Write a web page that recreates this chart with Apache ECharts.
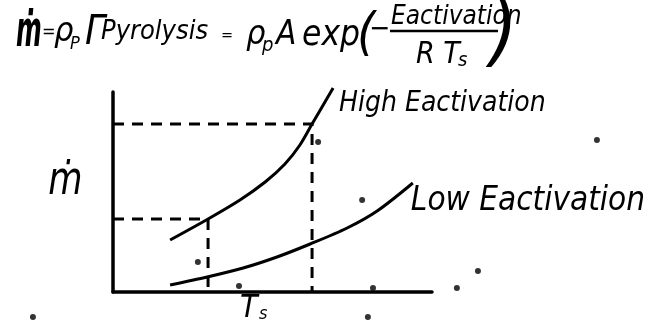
<!DOCTYPE html>
<html>
<head>
<meta charset="utf-8">
<script src="https://cdn.jsdelivr.net/npm/echarts@6/dist/echarts.min.js"></script>
<style>
  html, body { margin: 0; padding: 0; background: #fff; }
  #chart { width: 649px; height: 323px; }
</style>
</head>
<body>
<div id="chart"></div>
<script>
// Pyrolysis rate vs. surface temperature (arbitrary units)
const highCurveT = [1.79, 2.98, 3.98, 4.77, 5.39, 5.86, 6.24, 6.9];
const highCurveM = [2.6, 3.65, 4.6, 5.5, 6.4, 7.35, 8.4, 10.2];
const lowCurveT = [1.79, 2.95, 4.08, 5.14, 6.18, 7.34, 8.28, 9.4];
const lowCurveM = [0.35, 0.75, 1.2, 1.75, 2.4, 3.2, 4.05, 5.45];

// the two marked operating points on the high-activation curve
const markT = [2.98, 6.24];
const markM = [3.65, 8.4];

// stray ink specks
const speckT = [2.66, 3.95, 6.43, 7.81, 8.15, 7.99, 10.78, 11.44, 15.17, -2.51];
const speckM = [1.5, 0.3, 7.5, 4.6, 0.2, -1.25, 0.2, 1.05, 7.6, -1.25];

const seriesNames = ['High Eactivation', 'Low Eactivation'];

const HAND = '"Liberation Sans Narrow", "DejaVu Sans Condensed", sans-serif';
const INK = '#000';

const zip = (a, b) => a.map((v, i) => [v, b[i]]);

const curve = (name, t, m, offset, size) => ({
  name,
  type: 'line',
  smooth: 0.3,
  symbol: 'none',
  clip: false,
  data: zip(t, m),
  lineStyle: { color: INK, width: 3 },
  endLabel: {
    show: true,
    formatter: '{a}',
    distance: 0,
    offset,
    color: INK,
    fontFamily: HAND,
    fontStyle: 'italic',
    fontSize: size
  },
  silent: true
});

const guides = markT.map((t, i) => ({
  type: 'line',
  symbol: 'none',
  clip: false,
  data: [[0, markM[i]], [t, markM[i]], [t, 0]],
  lineStyle: { color: INK, width: 3, type: [11, 8] },
  silent: true
}));

// hand-lettered text placed by its baseline
const txt = (text, x, baseline, size, sx, weight) => ({
  type: 'text',
  x,
  y: baseline - 0.84 * size,
  scaleX: sx || 1,
  originX: x,
  style: {
    text,
    fill: INK,
    font: 'italic ' + (weight || 'normal') + ' ' + size + 'px ' + HAND,
    verticalAlign: 'top'
  }
});

const chart = echarts.init(document.getElementById('chart'));
chart.setOption({
  animation: false,
  backgroundColor: '#fff',
  grid: { left: 113, top: 92, width: 319, height: 200 },
  xAxis: {
    type: 'value', min: 0, max: 10,
    axisLine: { show: true, lineStyle: { color: INK, width: 3.5 } },
    axisTick: { show: false }, axisLabel: { show: false }, splitLine: { show: false }
  },
  yAxis: {
    type: 'value', min: 0, max: 10,
    axisLine: { show: true, lineStyle: { color: INK, width: 3.5 } },
    axisTick: { show: false }, axisLabel: { show: false }, splitLine: { show: false }
  },
  series: [
    curve(seriesNames[0], highCurveT, highCurveM, [6, 16], 28),
    curve(seriesNames[1], lowCurveT, lowCurveM, [-2, 18], 33),
    ...guides,
    {
      type: 'scatter',
      clip: false,
      symbolSize: 6,
      itemStyle: { color: INK },
      data: zip(speckT, speckM),
      silent: true
    }
  ],
  graphic: [
    // rate equation
    txt('ṁ', 11, 50, 50, 0.55, 'bold'),
    txt('=', 42, 38, 18),
    txt('ρ', 54, 44, 34),
    txt('P', 70, 50, 18),
    txt('Γ', 85, 47, 40),
    txt('Pyrolysis', 101, 41, 27),
    txt('=', 221, 41, 16),
    txt('ρ', 246, 47, 34),
    txt('p', 262, 53, 20),
    txt('A', 276, 47, 33),
    txt('exp', 302, 48, 35),
    txt('(', 357, 53, 52),
    txt('−', 369, 39, 28),
    txt('Eactivation', 391, 26, 26),
    { type: 'line', shape: { x1: 390, y1: 31, x2: 498, y2: 31 }, style: { stroke: INK, lineWidth: 2.5 } },
    txt('R T', 416, 65, 30),
    txt('s', 458, 68, 20),
    txt(')', 490, 63, 78),
    // axis titles
    txt('ṁ', 42, 198, 46, 0.85),
    txt('T', 240, 320, 32),
    txt('s', 259, 320, 18)
  ]
});
</script>
</body>
</html>
